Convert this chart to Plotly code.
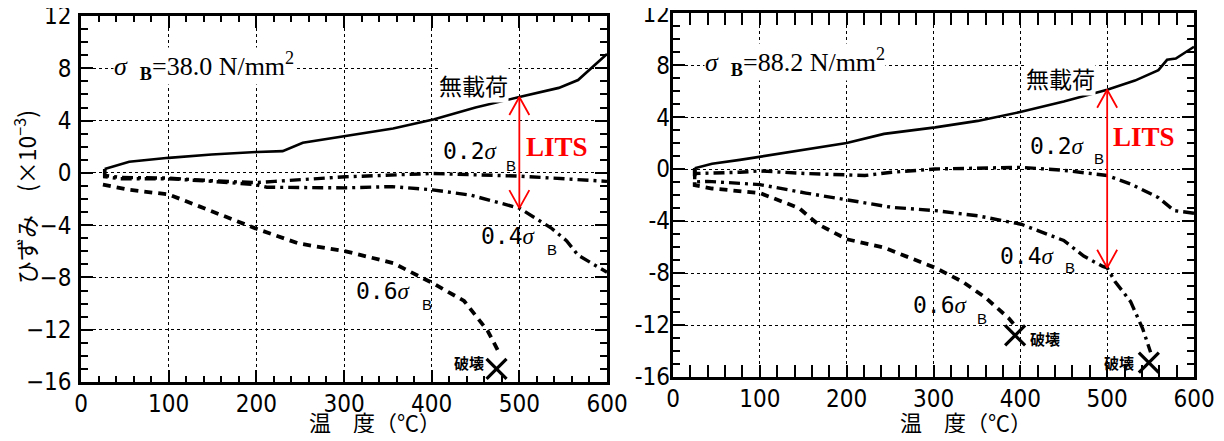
import numpy as np
import plotly.graph_objects as go

# page body margin of the default html page (px)
OFF = 8
SCR_W, SCR_H = 1224, 441
W, H = SCR_W - 2 * OFF, SCR_H - 2 * OFF

# ---------------- data (left panel, sigma_B = 38.0) ----------------
nl_L_T = [27, 55, 100, 149, 201, 230, 253, 302, 356, 403, 450, 500, 545, 567, 594, 600]
nl_L_E = [0.3, 0.85, 1.15, 1.4, 1.6, 1.66, 2.3, 2.8, 3.4, 4.1, 5.0, 5.8, 6.5, 7.1, 8.8, 9.1]

s02_L_T = [27, 27, 45, 100, 149, 199, 221, 302, 401, 500, 600]
s02_L_E = [0.3, -0.2, -0.35, -0.4, -0.6, -0.75, -0.65, -0.3, -0.05, -0.25, -0.65]

s04_L_T = [27, 27, 45, 100, 149, 199, 212, 300, 355, 401, 444, 500, 536, 554, 567, 600]
s04_L_E = [0.3, -0.3, -0.45, -0.45, -0.65, -0.9, -1.1, -1.15, -1.05, -1.3, -1.7, -2.7, -4.2, -5.2, -6.3, -7.6]

s06_L_T = [25, 55, 100, 149, 201, 248, 302, 356, 403, 437, 464, 478]
s06_L_E = [-0.9, -1.3, -1.65, -2.9, -4.3, -5.4, -6.0, -6.9, -8.5, -9.8, -12.1, -13.9]

brk_L_T = [474]
brk_L_E = [-15.0]

# ---------------- data (right panel, sigma_B = 88.2) ----------------
nl_R_T = [25, 45, 77, 100, 131, 200, 243, 302, 351, 401, 450, 500, 532, 559, 569, 579, 600]
nl_R_E = [0.05, 0.4, 0.7, 0.95, 1.3, 2.0, 2.7, 3.2, 3.7, 4.4, 5.2, 6.1, 6.8, 7.6, 8.4, 8.5, 9.4]

s02_R_T = [25, 25, 77, 100, 153, 180, 221, 252, 302, 401, 450, 500, 527, 559, 577, 600]
s02_R_E = [0.05, -0.35, -0.25, -0.15, -0.35, -0.4, -0.5, -0.25, 0.0, 0.13, -0.1, -0.5, -1.15, -2.2, -3.2, -3.4]

s04_R_T = [25, 25, 40, 100, 153, 200, 252, 302, 351, 401, 432, 450, 473, 495, 500, 509, 527, 541, 550]
s04_R_E = [0.05, -1.0, -0.95, -1.2, -1.85, -2.4, -2.95, -3.2, -3.6, -4.25, -5.0, -5.5, -6.7, -7.5, -7.6, -8.65, -10.2, -12.3, -14.1]

s06_R_T = [25, 25, 45, 100, 145, 167, 200, 243, 302, 333, 360, 387, 392]
s06_R_E = [0.05, -1.25, -1.5, -1.85, -3.0, -4.25, -5.4, -6.05, -7.6, -8.65, -9.9, -11.5, -11.9]

brk_R_T = [394, 548]
brk_R_E = [-12.8, -14.9]

LITS_T = 500

y_ticks_R = [12, 8, 4, 0, -4, -8, -12, -16]
y_ticktext_R = ["12", "8", "4", "0", "-4", "-8", "-12", "-16"]

# ---------------- layout geometry (screen pixels) ----------------
L_box = dict(x0=81, x1=607, y0=16, y1=382)
R_box = dict(x0=673, x1=1194, y0=13, y1=377)

def px(xs):
    return (xs - OFF) / W

def py(ys):
    return 1 - (ys - OFF) / H

def xdom(b):
    return [px(b["x0"]), px(b["x1"])]

def ydom(b):
    return [py(b["y1"]), py(b["y0"])]

fig = go.Figure()

SOLID = dict(color="black", width=2.6)
DASHDOT = dict(color="black", width=3.4, dash="11px,5px,3px,5px")
DASHED = dict(color="black", width=3.8, dash="8px,6px")

def add_panel(xa, ya, nlT, nlE, s2T, s2E, s4T, s4E, s6T, s6E, bT, bE):
    fig.add_trace(go.Scatter(x=nlT, y=nlE, mode="lines", line=SOLID, xaxis=xa, yaxis=ya, showlegend=False))
    fig.add_trace(go.Scatter(x=s2T, y=s2E, mode="lines", line=DASHDOT, xaxis=xa, yaxis=ya, showlegend=False))
    fig.add_trace(go.Scatter(x=s4T, y=s4E, mode="lines", line=DASHDOT, xaxis=xa, yaxis=ya, showlegend=False))
    fig.add_trace(go.Scatter(x=s6T, y=s6E, mode="lines", line=DASHED, xaxis=xa, yaxis=ya, showlegend=False))
    fig.add_trace(go.Scatter(x=bT, y=bE, mode="markers", xaxis=xa, yaxis=ya, showlegend=False,
                             cliponaxis=False,
                             marker=dict(symbol="x-thin", size=20, line=dict(color="black", width=3.2))))

add_panel("x", "y", nl_L_T, nl_L_E, s02_L_T, s02_L_E, s04_L_T, s04_L_E, s06_L_T, s06_L_E, brk_L_T, brk_L_E)
add_panel("x2", "y2", nl_R_T, nl_R_E, s02_R_T, s02_R_E, s04_R_T, s04_R_E, s06_R_T, s06_R_E, brk_R_T, brk_R_E)

# LITS double arrows (open V heads), derived from the data curves
def add_lits(xa, ya, box, nlT, nlE, s4T, s4E):
    top = float(np.interp(LITS_T, nlT, nlE))
    bot = float(np.interp(LITS_T, s4T, s4E))
    pxx = (box["x1"] - box["x0"]) / 600.0
    pxy = (box["y1"] - box["y0"]) / 28.0
    dx = 10 / pxx
    dy = 18 / pxy
    xs = [LITS_T, LITS_T, None,
          LITS_T - dx, LITS_T, LITS_T + dx, None,
          LITS_T - dx, LITS_T, LITS_T + dx]
    ys = [top, bot, None,
          top - dy, top, top - dy, None,
          bot + dy, bot, bot + dy]
    fig.add_trace(go.Scatter(x=xs, y=ys, mode="lines", line=dict(color="#ff0000", width=1.8),
                             xaxis=xa, yaxis=ya, showlegend=False, cliponaxis=False))

add_lits("x", "y", L_box, nl_L_T, nl_L_E, s04_L_T, s04_L_E)
add_lits("x2", "y2", R_box, nl_R_T, nl_R_E, s04_R_T, s04_R_E)

TICKFONT = dict(family="Liberation Sans Narrow, DejaVu Sans Condensed, Arial Narrow, sans-serif", size=24, color="black")

def xaxis_cfg(box, anchor):
    return dict(domain=xdom(box), range=[0, 600], tickmode="linear", tick0=0, dtick=100,
                ticks="inside", ticklen=12, tickwidth=2, tickcolor="black",
                minor=dict(tickmode="linear", dtick=20, tick0=0, ticks="inside", ticklen=6, tickwidth=2,
                           tickcolor="black", showgrid=False),
                showline=True, linecolor="black", linewidth=2.5, mirror="allticks",
                showgrid=True, gridcolor="black", gridwidth=1.2, griddash="dot",
                zeroline=False, tickfont=TICKFONT, ticklabelstandoff=-2, automargin=False,
                ticklabeloverflow="allow", anchor=anchor, fixedrange=True)

def yaxis_cfg(box, anchor, labels=True):
    return dict(domain=ydom(box), range=[-16, 12], tickmode="linear", tick0=0, dtick=4,
                ticks="inside", ticklen=12, tickwidth=2, tickcolor="black",
                minor=dict(tickmode="linear", dtick=1, tick0=0, ticks="inside", ticklen=7, tickwidth=2,
                           tickcolor="black", showgrid=False),
                showline=True, linecolor="black", linewidth=2.5, mirror="allticks",
                showgrid=True, gridcolor="black", gridwidth=1.2, griddash="dot",
                zeroline=False, tickfont=TICKFONT, ticklabelstandoff=2, showticklabels=labels,
                ticklabeloverflow="allow", anchor=anchor, automargin=False, fixedrange=True)

fig.update_layout(
    width=W, height=H,
    margin=dict(l=0, r=0, t=0, b=0),
    paper_bgcolor="white", plot_bgcolor="white",
    xaxis=xaxis_cfg(L_box, "y"),
    yaxis=yaxis_cfg(L_box, "x"),
    xaxis2=xaxis_cfg(R_box, "y2"),
    yaxis2=yaxis_cfg(R_box, "x2", labels=False),
    # overlay axis carrying the right panel's hyphen-minus tick labels
    yaxis4=dict(overlaying="y2", anchor="x2", side="left", range=[-16.02, 12.02],
                tickmode="array", tickvals=y_ticks_R, ticktext=y_ticktext_R,
                ticks="", showline=False, showgrid=False, zeroline=False,
                tickfont=TICKFONT, ticklabelstandoff=2, automargin=False,
                ticklabeloverflow="allow", fixedrange=True),
)
fig.add_trace(go.Scatter(x=[0], y=[0], mode="markers", marker=dict(opacity=0), xaxis="x2", yaxis="y4",
                         showlegend=False, hoverinfo="skip"))

SERIF = "Liberation Serif, Times New Roman, serif"
CJK = "Noto Sans CJK JP"
MONO = "DejaVu Sans Mono, Liberation Mono, monospace"

ann = []

def txt(xa, ya, x, y, text, family, size, color="black", xanchor="left", yanchor="middle", bg=None):
    d = dict(xref=xa, yref=ya, x=x, y=y, text=text, showarrow=False, xanchor=xanchor, yanchor=yanchor,
             font=dict(family=family, size=size, color=color), borderpad=0)
    if bg:
        d["bgcolor"] = bg
    ann.append(d)

def sigma_label(xa, ya, x, y, num, bx, by):
    txt(xa, ya, x, y, num + '<span style="font-family:Liberation Serif"><i>\u03c3</i></span>', MONO, 23)
    txt(xa, ya, bx, by, "B", "Liberation Sans, sans-serif", 15, xanchor="center")

# left panel labels
txt("x", "y", 37, 8.2, "<i>\u03c3</i>\u00a0\u00a0<sub><b>B</b></sub>=38.0 N/mm<sup>2</sup>", SERIF, 26, bg="white")
txt("x", "y", 448, 6.7, "無載荷", CJK, 23, xanchor="center", bg="white")
sigma_label("x", "y", 412, 1.65, "0.2", 491, 0.6)
txt("x", "y", 506, 2.0, "<b>LITS</b>", "Liberation Serif", 27, color="#ff0000")
sigma_label("x", "y", 455, -4.85, "0.4", 537, -5.9)
sigma_label("x", "y", 313, -9.05, "0.6", 395, -10.1)
txt("x", "y", 443, -14.5, "<b>破壊</b>", CJK, 15, xanchor="center")

# right panel labels
txt("x2", "y2", 36, 8.25, "<i>\u03c3</i>\u00a0\u00a0<sub><b>B</b></sub>=88.2 N/mm<sup>2</sup>", SERIF, 26, bg="white")
txt("x2", "y2", 446, 7.0, "無載荷", CJK, 23, xanchor="center", bg="white")
sigma_label("x2", "y2", 410, 1.8, "0.2", 491, 0.77)
txt("x2", "y2", 506, 2.45, "<b>LITS</b>", "Liberation Serif", 27, color="#ff0000")
sigma_label("x2", "y2", 376, -6.7, "0.4", 457, -7.6)
sigma_label("x2", "y2", 275, -10.45, "0.6", 356, -11.5)
txt("x2", "y2", 428, -13.0, "<b>破壊</b>", CJK, 15, xanchor="center")
txt("x2", "y2", 514, -14.9, "<b>破壊</b>", CJK, 15, xanchor="center")

# axis titles
for cx in (375, 966):
    ann.append(dict(xref="paper", yref="paper", x=px(cx), y=py(421), text="温　度（℃）",
                    showarrow=False, xanchor="center", yanchor="middle",
                    font=dict(family=CJK, size=22, color="black")))
ann.append(dict(xref="paper", yref="paper", x=px(25), y=py(197),
                text="ひずみ　(×10<sup>−3</sup>)", textangle=-90, showarrow=False,
                xanchor="center", yanchor="middle", font=dict(family=CJK, size=23, color="black")))

fig.update_layout(annotations=ann)

fig.write_html("out.html")
